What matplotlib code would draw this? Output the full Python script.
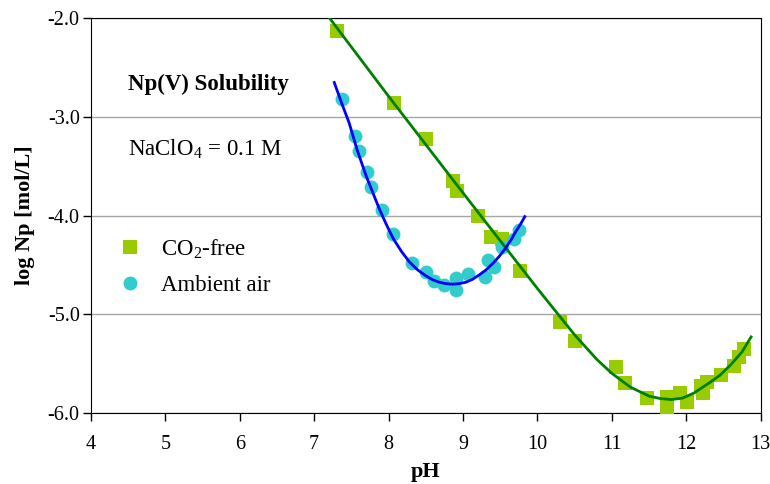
import numpy as np
import matplotlib.pyplot as plt
from matplotlib.lines import Line2D

plt.rcParams['font.family'] = ['Liberation Serif', 'DejaVu Serif']
plt.rcParams['mathtext.fontset'] = 'custom'
plt.rcParams['mathtext.rm'] = 'Liberation Serif'

# CO2-free data (squares)
ph_free = [7.31, 8.07, 8.50, 8.87, 8.92, 9.20, 9.38, 9.52, 9.77, 10.30, 10.50,
           11.06, 11.18, 11.47, 11.74, 11.74, 11.92, 12.01, 12.20, 12.23,
           12.28, 12.46, 12.64, 12.71, 12.77]
np_free = [-2.13, -2.86, -3.22, -3.65, -3.75, -4.00, -4.22, -4.24, -4.56, -5.08, -5.27,
           -5.54, -5.70, -5.85, -5.84, -5.94, -5.80, -5.89, -5.73, -5.80,
           -5.69, -5.62, -5.52, -5.43, -5.35]

# ambient air data (circles)
ph_air = [7.37, 7.55, 7.60, 7.71, 7.77, 7.91, 8.06, 8.31, 8.50, 8.61, 8.74,
          8.91, 8.90, 9.07, 9.29, 9.33, 9.42, 9.52, 9.69, 9.75]
np_air = [-2.82, -3.19, -3.34, -3.56, -3.71, -3.94, -4.19, -4.48, -4.57, -4.66, -4.70,
          -4.63, -4.75, -4.59, -4.62, -4.45, -4.52, -4.32, -4.24, -4.15]

# fitted curves
ph_fit_free = [7.21, 8.0, 9.0, 10.0, 10.5, 10.8, 11.0, 11.25, 11.5, 11.65, 11.8,
               11.95, 12.1, 12.3, 12.45, 12.6, 12.75, 12.87]
np_fit_free = [-2.00, -2.79, -3.77, -4.74, -5.21, -5.46, -5.60, -5.74, -5.83, -5.855, -5.865,
               -5.85, -5.80, -5.70, -5.62, -5.51, -5.38, -5.23]

ph_fit_air = [7.27, 7.37, 7.47, 7.58, 7.70, 7.80, 7.88, 7.97, 8.06, 8.17, 8.28, 8.39, 8.50,
              8.59, 8.68, 8.77, 8.86, 8.95, 9.04, 9.13, 9.22, 9.31, 9.40, 9.49, 9.58, 9.65,
              9.71, 9.77, 9.83]
np_fit_air = [-2.65, -2.86, -3.06, -3.34, -3.60, -3.79, -3.94, -4.09, -4.23, -4.36, -4.47,
              -4.55, -4.61, -4.65, -4.675, -4.69, -4.695, -4.69, -4.675, -4.645, -4.60,
              -4.55, -4.485, -4.41, -4.32, -4.24, -4.16, -4.09, -4.01]

fig = plt.figure(figsize=(7.7, 4.84), dpi=100)
ax = fig.add_axes([0.118, 0.147, 0.870, 0.815])

ax.grid(True, axis='y', color='#a6a6a6', linewidth=1.0)
ax.set_axisbelow(True)

ax.plot(ph_free, np_free, 's', color='#99cc00', markersize=9.5, markeredgewidth=0, zorder=3)
ax.plot(ph_air, np_air, 'o', color='#33cccc', markersize=10, markeredgewidth=0, zorder=3)
ax.plot(ph_fit_free, np_fit_free, '-', color='#008000', linewidth=2, zorder=4)
ax.plot(ph_fit_air, np_fit_air, '-', color='#0000ff', linewidth=2, zorder=4)

ax.set_xlim(4, 13)
ax.set_ylim(-6, -2)
ax.set_xticks(range(4, 14))
ax.set_yticks([-6, -5, -4, -3, -2])
ax.set_yticklabels(['-6.0', '-5.0', '-4.0', '-3.0', '-2.0'])
ax.tick_params(labelsize=14.5, direction='out', length=6, width=1)
ax.tick_params(axis='y', pad=2)
ax.tick_params(axis='x', pad=10)

ax.set_xlabel('pH', fontsize=16, fontweight='bold', labelpad=6)
ax.set_ylabel('log Np [mol/L]', fontsize=16, fontweight='bold', labelpad=9)

ax.text(4.50, -2.67, 'Np(V) Solubility', fontsize=16.5, fontweight='bold', va='center')
ax.text(4.50, -3.33, r'NaClO$_4$ = 0.1 M', fontsize=16.5, va='center')

handles = [Line2D([], [], marker='s', linestyle='none', color='#99cc00', markersize=9.5, markeredgewidth=0),
           Line2D([], [], marker='o', linestyle='none', color='#33cccc', markersize=10, markeredgewidth=0)]
ax.legend(handles, [r'CO$_2$-free', 'Ambient air'], loc='upper left',
          bbox_to_anchor=(0.0, 0.497), frameon=False, fontsize=16.5,
          handletextpad=0.55, labelspacing=0.58, handlelength=1.6)

fig.savefig('out.png', dpi=100)
